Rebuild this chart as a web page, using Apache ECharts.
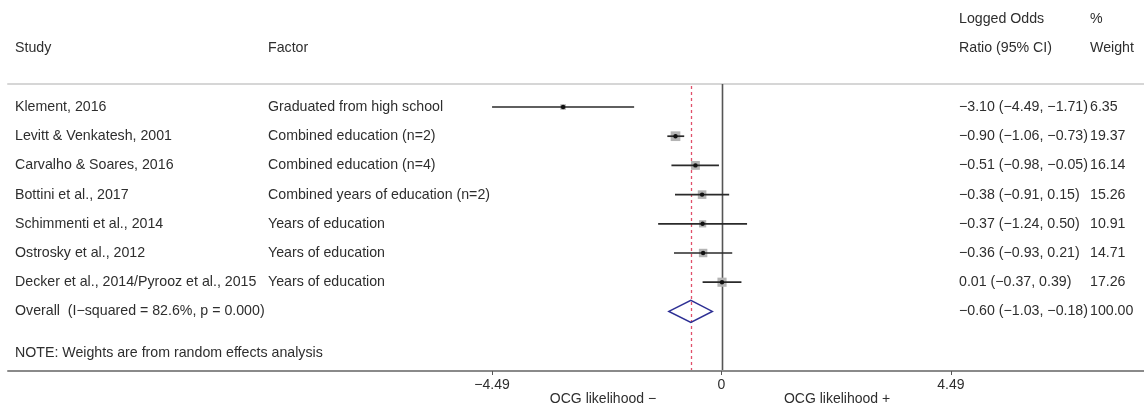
<!DOCTYPE html>
<html>
<head>
<meta charset="utf-8">
<script src="https://cdn.jsdelivr.net/npm/echarts@6/dist/echarts.min.js"></script>
<style>
html,body{margin:0;padding:0;background:#fff;}
#chart{width:1144px;height:405px;}
</style>
</head>
<body>
<div id="chart"></div>
<script>
// ---- data ----
const studies = [
  'Klement, 2016',
  'Levitt & Venkatesh, 2001',
  'Carvalho & Soares, 2016',
  'Bottini et al., 2017',
  'Schimmenti et al., 2014',
  'Ostrosky et al., 2012',
  'Decker et al., 2014/Pyrooz et al., 2015'
];
const factors = [
  'Graduated from high school',
  'Combined education (n=2)',
  'Combined education (n=4)',
  'Combined years of education (n=2)',
  'Years of education',
  'Years of education',
  'Years of education'
];
const estimates = [-3.10, -0.90, -0.51, -0.38, -0.37, -0.36, 0.01];
const ciLow     = [-4.49, -1.06, -0.98, -0.91, -1.24, -0.93, -0.37];
const ciHigh    = [-1.71, -0.73, -0.05, 0.15, 0.50, 0.21, 0.39];
const weights   = [6.35, 19.37, 16.14, 15.26, 10.91, 14.71, 17.26];
const overallLabel = 'Overall  (I\u2212squared = 82.6%, p = 0.000)';
const overallEst = -0.60;
const overallLow = -1.03;
const overallHigh = -0.18;
const overallWeight = 100.00;
const tickValues = [-4.49, 0, 4.49];
const tickLabels = ['\u22124.49', '0', '4.49'];
const sideLabels = ['OCG likelihood \u2212', 'OCG likelihood +'];
const sideLabelValues = [-2.32, 2.26];
const noteText = 'NOTE: Weights are from random effects analysis';

// ---- helpers ----
const MINUS = '\u2212';
function f2(v){ const s = Math.abs(v).toFixed(2); return (v < 0 ? MINUS : '') + s; }
function ciText(e, l, h){ return f2(e) + ' (' + f2(l) + ', ' + f2(h) + ')'; }
const FONT = '14.2px "Liberation Sans", Arial, sans-serif';
const TXT = '#2e2e2e';
const X_STUDY = 15, X_FACTOR = 268, X_CI = 959, X_W = 1090;
const Y_MIN = -0.788, Y_MAX = 9.041;

const rows = estimates.map((e, i) => [i, ciLow[i], ciHigh[i], e, weights[i]]);
const overallRow = studies.length;

function txt(x, y, s){
  return {type:'text', x:x, y:y, style:{text:s, fill:TXT, font:FONT, align:'left', verticalAlign:'middle'}};
}

const chart = echarts.init(document.getElementById('chart'), null, {renderer:'canvas'});
chart.setOption({
  animation: false,
  backgroundColor: '#fff',
  grid: {left: 8, right: 0, top: 84, bottom: 34, containLabel: false, outerBoundsMode: 'none'},
  xAxis: [{
    type: 'value', position: 'bottom', min: -13.963, max: 8.268,
    axisLine: {show: true, onZero: false, lineStyle: {color: '#8a8a8a', width: 2}},
    axisTick: {show: true, customValues: tickValues, length: 4, inside: false, lineStyle: {color: '#555', width: 1}},
    axisLabel: {
      show: true, customValues: tickValues.concat(sideLabelValues), margin: 7,
      color: TXT, fontSize: 14, fontFamily: '"Liberation Sans", Arial, sans-serif', lineHeight: 14,
      formatter: function(v){
        for (let i = 0; i < tickValues.length; i++) if (Math.abs(v - tickValues[i]) < 1e-6) return tickLabels[i];
        for (let i = 0; i < sideLabelValues.length; i++) if (Math.abs(v - sideLabelValues[i]) < 1e-6) return '\n' + sideLabels[i];
        return '';
      }
    },
    splitLine: {show: false}
  }, {
    type: 'value', position: 'top', min: -13.963, max: 8.268,
    axisLine: {show: true, onZero: false, lineStyle: {color: '#d6d6d6', width: 2}},
    axisTick: {show: false}, axisLabel: {show: false}, splitLine: {show: false}
  }],
  yAxis: {type: 'value', inverse: true, min: Y_MIN, max: Y_MAX, show: false},
  graphic: [
    {type:'text', left: X_CI, top: 12, style:{text:'Logged Odds', fill:TXT, font:FONT}},
    {type:'text', left: X_W, top: 12, style:{text:'%', fill:TXT, font:FONT}},
    {type:'text', left: X_STUDY, top: 41, style:{text:'Study', fill:TXT, font:FONT}},
    {type:'text', left: X_FACTOR, top: 41, style:{text:'Factor', fill:TXT, font:FONT}},
    {type:'text', left: X_CI, top: 41, style:{text:'Ratio (95% CI)', fill:TXT, font:FONT}},
    {type:'text', left: X_W, top: 41, style:{text:'Weight', fill:TXT, font:FONT}},
    {type:'text', left: X_STUDY, top: 346, style:{text:noteText, fill:TXT, font:FONT}}
  ],
  series: [{
    // reference lines: null effect (0) and pooled estimate
    type: 'custom',
    xAxisIndex: 0, yAxisIndex: 0,
    data: [[0, 0], [overallEst, 1]],
    clip: false,
    renderItem: function(params, api){
      const x = api.value(0);
      const top = api.coord([x, Y_MIN]);
      const bot = api.coord([x, Y_MAX]);
      const dashed = api.value(1) === 1;
      return {type:'line', shape:{x1: Math.round(top[0]) + 0.5, y1: dashed ? top[1] + 2 : top[1], x2: Math.round(bot[0]) + 0.5, y2: bot[1] - 1},
        style: dashed ? {stroke:'#e0506a', lineWidth:1.3, lineDash:[3, 3]} : {stroke:'#555', lineWidth:1.6}};
    },
    z: 1
  }, {
    type: 'custom',
    xAxisIndex: 0, yAxisIndex: 0,
    data: rows,
    clip: false,
    renderItem: function(params, api){
      const i = params.dataIndex;
      const row = api.value(0);
      const lo = api.coord([api.value(1), row]);
      const hi = api.coord([api.value(2), row]);
      const es = api.coord([api.value(3), row]);
      const s = 2.2 * Math.sqrt(api.value(4));
      const y = lo[1];
      return {type:'group', children:[
        {type:'rect', shape:{x: es[0]-s/2, y: y-s/2, width: s, height: s}, style:{fill:'#b4b4b4'}},
        {type:'line', shape:{x1: lo[0], y1: y, x2: hi[0], y2: y}, style:{stroke:'#2a2a2a', lineWidth:1.7}},
        {type:'circle', shape:{cx: es[0], cy: y, r: 2.2}, style:{fill:'#111'}},
        txt(X_STUDY, y, studies[i]),
        txt(X_FACTOR, y, factors[i]),
        txt(X_CI, y, ciText(estimates[i], ciLow[i], ciHigh[i])),
        txt(X_W, y, weights[i].toFixed(2))
      ]};
    },
    z: 3
  }, {
    type: 'custom',
    xAxisIndex: 0, yAxisIndex: 0,
    data: [[overallRow, overallLow, overallHigh, overallEst, overallWeight]],
    clip: false,
    renderItem: function(params, api){
      const row = api.value(0);
      const lo = api.coord([api.value(1), row]);
      const hi = api.coord([api.value(2), row]);
      const es = api.coord([api.value(3), row]);
      const y = lo[1];
      const h = 11;
      return {type:'group', children:[
        {type:'polygon', shape:{points:[[lo[0], y],[es[0], y-h],[hi[0], y],[es[0], y+h]]},
         style:{fill:'none', stroke:'#2d2f94', lineWidth:1.5}},
        txt(X_STUDY, y, overallLabel),
        txt(X_CI, y, ciText(api.value(3), api.value(1), api.value(2))),
        txt(X_W, y, api.value(4).toFixed(2))
      ]};
    },
    z: 2
  }]
});
</script>
</body>
</html>
